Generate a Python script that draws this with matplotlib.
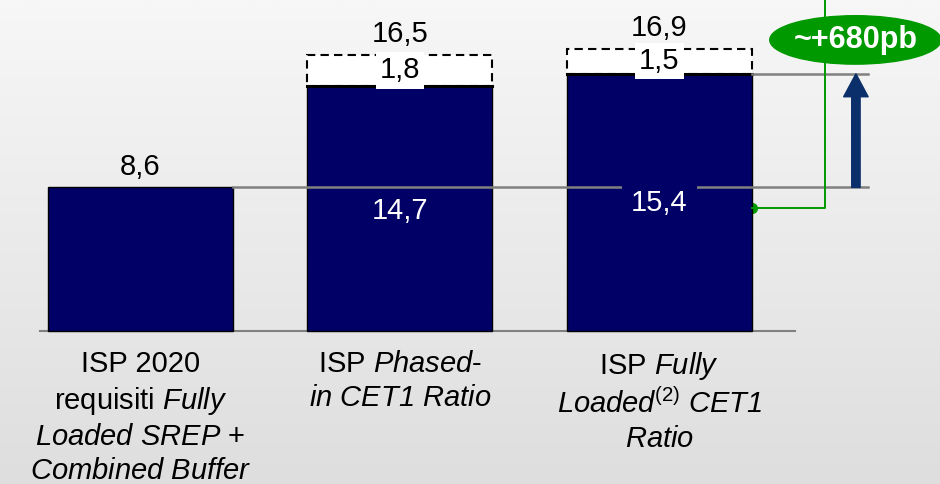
import numpy as np
import matplotlib
matplotlib.use("Agg")
import matplotlib.pyplot as plt
from matplotlib.patches import Ellipse, FancyArrowPatch

# Police type Arial ; l'italique passe par mathtext (\mathsf -> Liberation Sans Italic,
# pour que les chiffres soient aussi en italique)
plt.rcParams['font.family'] = ['Liberation Sans', 'DejaVu Sans']
plt.rcParams['mathtext.fontset'] = 'custom'
plt.rcParams['mathtext.rm'] = 'Liberation Sans'
plt.rcParams['mathtext.it'] = 'Liberation Sans:italic'
plt.rcParams['mathtext.sf'] = 'Liberation Sans:italic'
plt.rcParams['mathtext.bf'] = 'Liberation Sans:bold'

# Données
categories = [
    "ISP 2020\nrequisiti $\\mathsf{Fully}$\n$\\mathsf{Loaded\\ SREP}$ +\n$\\mathsf{Combined\\ Buffer}$",
    "ISP $\\mathsf{Phased}$-\n$\\mathsf{in\\ CET1\\ Ratio}$",
    "ISP $\\mathsf{Fully}$\n$\\mathsf{Loaded}^{\\mathrm{(2)}}$ $\\mathsf{CET1}$\n$\\mathsf{Ratio}$",
]
base_values = [8.6, 14.7, 15.4]
extra_values = [0, 1.8, 1.5]
base_labels = ["8,6", "14,7", "15,4"]
extra_labels = ["", "1,8", "1,5"]
total_labels = ["", "16,5", "16,9"]
delta_label = "~+680pb"

NAVY = "#000066"
ARROW = "#0b2f6a"
GREEN = "#009900"
GRAY = "#808080"

fig = plt.figure(figsize=(9.4, 4.84), dpi=100)
ax = fig.add_axes([0, 0, 1, 1])
xlim = (-0.541, 3.081)
ylim = (-9.16, 19.82)
ax.set_xlim(*xlim)
ax.set_ylim(*ylim)
ax.axis('off')

# fond dégradé
grad = np.linspace(0, 1, 256).reshape(-1, 1)
ax.imshow(grad, extent=[xlim[0], xlim[1], ylim[0], ylim[1]], aspect='auto',
          cmap=matplotlib.colors.LinearSegmentedColormap.from_list('bg', ['#f7f7f7', '#dedede']),
          origin='upper', zorder=0)

x = np.arange(len(categories))
w = 0.713

# barres
ax.bar(x, base_values, width=w, color=NAVY, edgecolor='black', linewidth=1, zorder=2)
for i in range(len(x)):
    if extra_values[i] > 0:
        ax.bar(x[i], extra_values[i], bottom=base_values[i], width=w, color='white',
               edgecolor='black', linewidth=1.5, linestyle=(0, (4, 2.5)), zorder=2)
        ax.plot([x[i] - w / 2, x[i] + w / 2], [base_values[i]] * 2, color='black', lw=2.2, zorder=3)
        ax.text(x[i], base_values[i] + extra_values[i] / 2, extra_labels[i], ha='center', va='center',
                fontsize=21, zorder=5,
                bbox=dict(boxstyle='square,pad=0.14', fc='white', ec='none'))
        ax.text(x[i], base_values[i] + extra_values[i] + 0.78, total_labels[i], ha='center',
                va='baseline', fontsize=21, zorder=5)

ax.text(x[0], base_values[0] + 0.75, base_labels[0], ha='center', va='baseline', fontsize=21, zorder=5)

# lignes de référence
x_end = 2.803
ax.plot([x[0] + w / 2, x_end], [base_values[0]] * 2, color=GRAY, lw=1.8, zorder=3)
ax.plot([x[2] + w / 2, x_end], [base_values[2]] * 2, color=GRAY, lw=1.8, zorder=3)
ax.plot([-0.387, 2.522], [0, 0], color=GRAY, lw=1.5, zorder=1)

# étiquettes dans les barres (seule la 3e masque la ligne grise)
ax.text(x[1], base_values[1] / 2 - 0.15, base_labels[1], ha='center', va='center', color='white',
        fontsize=21, zorder=5)
ax.text(x[2], base_values[2] / 2 - 0.05, base_labels[2], ha='center', va='center', color='white',
        fontsize=21, zorder=5,
        bbox=dict(boxstyle='square,pad=0.3', fc=NAVY, ec='none'))

# flèche
arrow_x = 2.757
ax.add_patch(FancyArrowPatch((arrow_x, base_values[0]), (arrow_x, base_values[2]),
                             arrowstyle='simple,head_length=1.5,head_width=1.6,tail_width=0.55',
                             mutation_scale=11, color=ARROW, shrinkA=0, shrinkB=0, zorder=4))

# connecteur vert + bulle
green_x = 2.638
green_y = 7.37
ax.plot([x[2] + w / 2, green_x, green_x], [green_y, green_y, ylim[1] + 1], color=GREEN, lw=1.4,
        zorder=4, clip_on=False)
ax.plot([x[2] + w / 2], [green_y], marker='o', ms=7, color=GREEN, zorder=1.9)
ax.add_patch(Ellipse((2.755, 17.43), 0.66, 2.9, color=GREEN, zorder=6))
ax.text(2.755, 17.4, delta_label, ha='center', va='center', color='white', fontsize=22,
        fontweight='bold', zorder=7)

# étiquettes catégories
for i, lab in enumerate(categories):
    ax.text(x[i], -1.15, lab, ha='center', va='top', fontsize=21, linespacing=1.27,
            multialignment='center', zorder=5)

fig.savefig("out.png", dpi=100)
